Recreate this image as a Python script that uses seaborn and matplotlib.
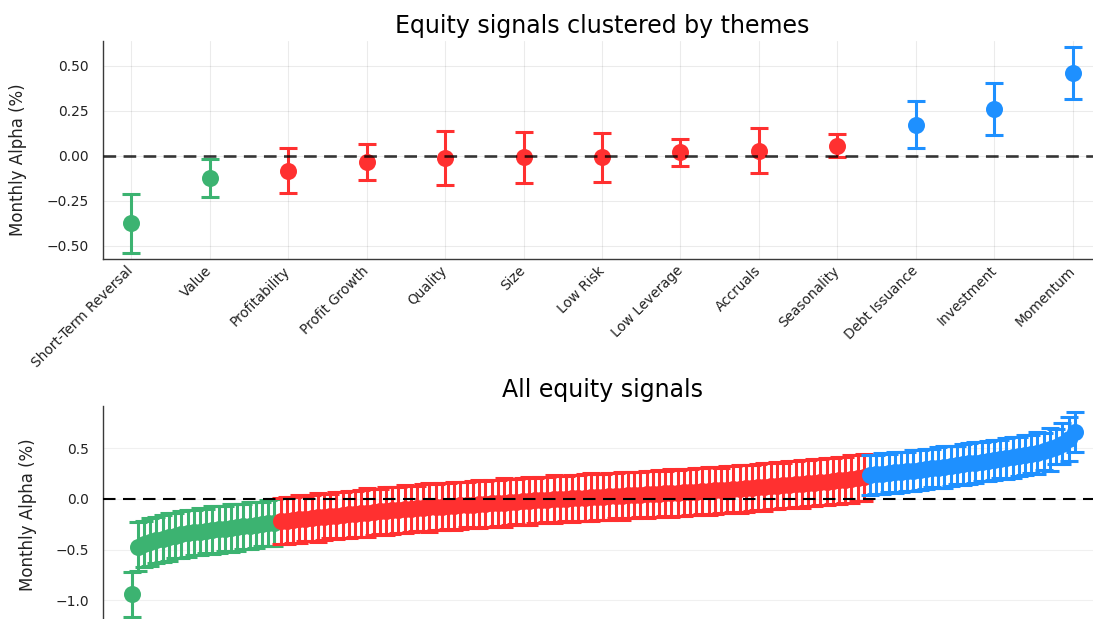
import numpy as np
import pandas as pd
import matplotlib
matplotlib.use("Agg")
import matplotlib.pyplot as plt
import seaborn as sns
from matplotlib.ticker import FuncFormatter

# ---- theme-level alphas (monthly, %) with standard-error half widths ----
themes = ["Short-Term Reversal", "Value", "Profitability", "Profit Growth",
          "Quality", "Size", "Low Risk", "Low Leverage", "Accruals",
          "Seasonality", "Debt Issuance", "Investment", "Momentum"]
theme_alpha = [-0.376, -0.122, -0.083, -0.036, -0.012, -0.010, -0.010,
               0.018, 0.028, 0.056, 0.171, 0.258, 0.458]
theme_se = [0.162, 0.105, 0.125, 0.099, 0.150, 0.142, 0.135,
            0.074, 0.125, 0.066, 0.130, 0.145, 0.145]
theme_sig = ["neg", "neg", "ns", "ns", "ns", "ns", "ns",
             "ns", "ns", "ns", "pos", "pos", "pos"]

# ---- individual signals, sorted by alpha, split by significance ----
neg_alpha = [-0.94, -0.47, -0.445, -0.425, -0.405, -0.39, -0.375, -0.362,
             -0.35, -0.34, -0.33, -0.322, -0.315, -0.308, -0.30, -0.292,
             -0.285, -0.278, -0.27, -0.262, -0.255, -0.247, -0.24, -0.232]
neg_se = [0.22, 0.24, 0.23, 0.235, 0.225, 0.23, 0.24, 0.22, 0.23, 0.235,
          0.225, 0.23, 0.22, 0.235, 0.23, 0.225, 0.24, 0.23, 0.225, 0.235,
          0.23, 0.22, 0.225, 0.228]

ns_alpha = [-0.220, -0.213, -0.206, -0.199, -0.193, -0.187, -0.181, -0.175, -0.169, -0.163,
            -0.158, -0.152, -0.146, -0.140, -0.134, -0.128, -0.123, -0.118, -0.113, -0.108,
            -0.103, -0.098, -0.093, -0.088, -0.083, -0.079, -0.075, -0.071, -0.067, -0.063,
            -0.059, -0.055, -0.051, -0.047, -0.043, -0.039, -0.035, -0.031, -0.027, -0.023,
            -0.019, -0.015, -0.011, -0.007, -0.003, 0.001, 0.004, 0.008, 0.011, 0.014,
            0.017, 0.020, 0.023, 0.026, 0.030, 0.033, 0.036, 0.039, 0.042, 0.045,
            0.049, 0.052, 0.055, 0.058, 0.062, 0.065, 0.069, 0.072, 0.076, 0.080,
            0.084, 0.088, 0.092, 0.096, 0.100, 0.105, 0.110, 0.115, 0.120, 0.125,
            0.130, 0.135, 0.140, 0.145, 0.150, 0.155, 0.160, 0.166, 0.172, 0.178,
            0.184, 0.190, 0.197, 0.204, 0.212]
ns_se = [0.228, 0.232, 0.225, 0.235, 0.222, 0.230, 0.238, 0.226, 0.220, 0.232,
         0.228, 0.235, 0.224, 0.230, 0.240, 0.226, 0.222, 0.234, 0.230, 0.225,
         0.236, 0.228, 0.221, 0.232, 0.238, 0.226, 0.230, 0.224, 0.235, 0.228,
         0.222, 0.230, 0.236, 0.226, 0.232, 0.224, 0.238, 0.228, 0.222, 0.230,
         0.234, 0.226, 0.230, 0.224, 0.236, 0.228, 0.222, 0.232, 0.226, 0.230,
         0.235, 0.224, 0.228, 0.232, 0.222, 0.236, 0.228, 0.230, 0.224, 0.234,
         0.226, 0.230, 0.222, 0.236, 0.228, 0.232, 0.224, 0.230, 0.226, 0.234,
         0.228, 0.222, 0.232, 0.226, 0.236, 0.230, 0.224, 0.228, 0.234, 0.226,
         0.230, 0.224, 0.232, 0.228, 0.236, 0.226, 0.230, 0.224, 0.232, 0.228,
         0.230, 0.226, 0.234, 0.228, 0.230]

pos_alpha = [0.236, 0.243, 0.250, 0.256, 0.262, 0.268, 0.274, 0.280, 0.287, 0.294,
             0.302, 0.310, 0.318, 0.326, 0.334, 0.342, 0.350, 0.358, 0.366, 0.374,
             0.382, 0.390, 0.400, 0.410, 0.420, 0.432, 0.444, 0.456, 0.470, 0.490,
             0.515, 0.545, 0.590, 0.660]
pos_se = [0.200, 0.195, 0.205, 0.190, 0.200, 0.198, 0.192, 0.205, 0.200, 0.195,
          0.188, 0.200, 0.205, 0.195, 0.190, 0.200, 0.198, 0.205, 0.192, 0.200,
          0.195, 0.188, 0.200, 0.205, 0.190, 0.198, 0.185, 0.205, 0.180, 0.210,
          0.175, 0.200, 0.215, 0.195]

palette = {"neg": "#3CB371", "ns": "#FF3030", "pos": "#1E90FF"}
sig_order = ["neg", "ns", "pos"]

sns.set_theme(style="white")
plt.rcParams["font.family"] = ["DejaVu Sans"]
plt.rcParams["axes.unicode_minus"] = True

W, H = 1093, 619
fig = plt.figure(figsize=(W / 100, H / 100), dpi=100)


def box(left, top, right, bottom):
    return [left / W, 1 - bottom / H, (right - left) / W, (bottom - top) / H]


ax1 = fig.add_axes(box(103, 41.2, 1101, 258.8))
ax2 = fig.add_axes(box(103, 405.6, 1103, 622.8))

top = pd.DataFrame({"theme": themes, "alpha": theme_alpha,
                    "se": theme_se, "sig": theme_sig})
top["pos"] = np.arange(len(top))

sig_all = ["neg"] * len(neg_alpha) + ["ns"] * len(ns_alpha) + ["pos"] * len(pos_alpha)
bottom = pd.DataFrame({"alpha": neg_alpha + ns_alpha + pos_alpha,
                       "se": neg_se + ns_se + pos_se,
                       "sig": sig_all})
bottom["rank"] = np.arange(len(bottom))

err_kw = dict(fmt="none", elinewidth=2.2, capsize=6.3, capthick=2.2)


def draw_panel(ax, df, xcol):
    z = 2
    for g in sig_order:
        d = df[df["sig"] == g]
        ax.errorbar(d[xcol], d["alpha"], yerr=d["se"], ecolor=palette[g],
                    zorder=z, **err_kw)
        sns.scatterplot(data=d, x=xcol, y="alpha", color=palette[g], s=150,
                        linewidth=0, ax=ax, zorder=z + 1, legend=False)
        z += 2


draw_panel(ax1, top, "pos")
draw_panel(ax2, bottom, "rank")

ax1.axhline(0, color="black", alpha=0.78, lw=1.9, dashes=(4.8, 2.8), zorder=20)
ax2.axhline(0, color="black", lw=1.5, dashes=(6.0, 3.6), zorder=20)


def minus_fmt(decimals):
    def f(v, _):
        s = f"{v:.{decimals}f}"
        if float(s) == 0:
            s = s.lstrip("-")
        return s.replace("-", "\u2212")
    return FuncFormatter(f)


n_top = len(themes)
ax1.set_xlim(-0.36, n_top - 1 + 0.36)
ax1.set_ylim(-0.573, 0.636)
ax1.set_xticks(np.arange(n_top))
ax1.set_xticklabels(themes, rotation=45, ha="right", va="center",
                    rotation_mode="anchor", fontsize=9.8)
ax1.set_yticks([-0.5, -0.25, 0.0, 0.25, 0.5])
ax1.yaxis.set_major_formatter(minus_fmt(2))
ax1.grid(True, color="black", alpha=0.08, lw=0.8)

n_sig = len(bottom)
ax2.set_xlim(-4.62, n_sig - 1 + 4.56)
ax2.set_ylim(-1.22, 0.92)
ax2.set_xticks([])
ax2.set_yticks([-1.0, -0.5, 0.0, 0.5])
ax2.yaxis.set_major_formatter(minus_fmt(1))
ax2.grid(True, axis="y", color="black", alpha=0.06, lw=0.8)

for ax, title in [(ax1, "Equity signals clustered by themes"),
                  (ax2, "All equity signals")]:
    ax.set_title(title, fontsize=17, pad=6, color="black")
    ax.set_xlabel("")
    ax.set_ylabel("Monthly Alpha (%)", fontsize=12, color="#222222")
    for side in ["top", "right"]:
        ax.spines[side].set_visible(False)
    for side in ["left", "bottom"]:
        ax.spines[side].set_color("#3a3a3a")
        ax.spines[side].set_linewidth(1.0)
    ax.tick_params(axis="both", direction="in", length=4, width=0.8,
                   colors="#3a3a3a", labelcolor="#222222")
    ax.tick_params(axis="y", labelsize=10, pad=10)
    ax.tick_params(axis="x", pad=7)
    ax.set_axisbelow(True)

ax1.yaxis.set_label_coords(-0.076, 0.456)
ax2.yaxis.set_label_coords(-0.066, 0.496)

fig.savefig("out.png", dpi=100)
